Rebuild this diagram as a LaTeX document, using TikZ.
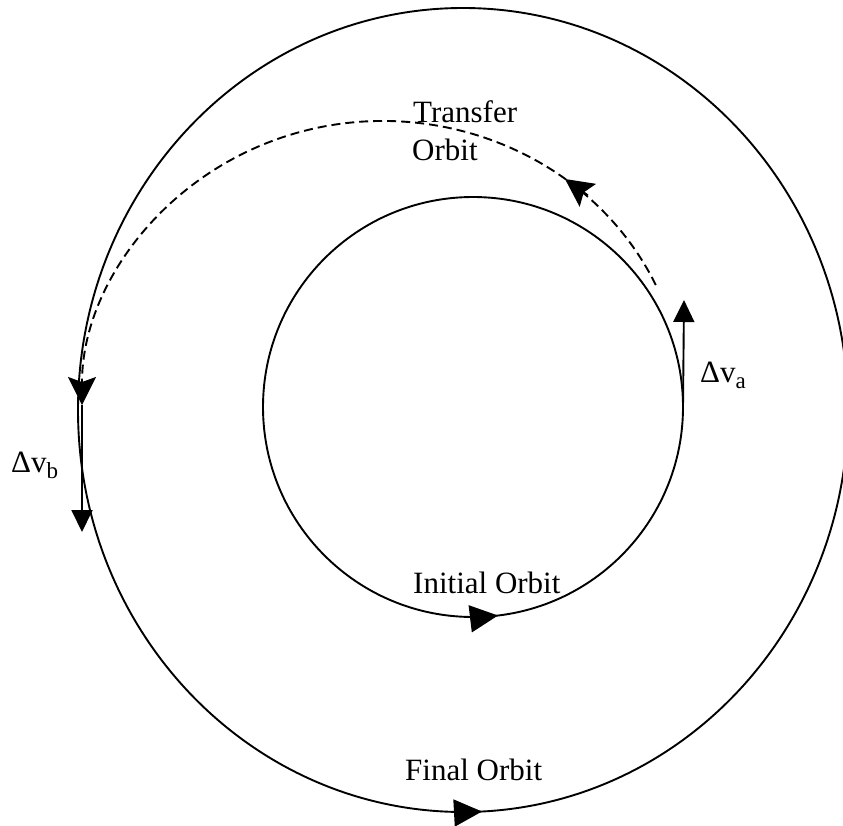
\documentclass[tikz,border=0pt]{standalone}
\usepackage{fontspec}
\setmainfont{Liberation Serif}
\usetikzlibrary{arrows.meta}
\newcommand{\subtxt}[1]{\raisebox{-0.22em}{\fontsize{23}{26}\selectfont #1}}
\begin{document}
\begin{tikzpicture}[x=1pt,y=-1pt,
  orbit/.style={line width=1.9pt},
  transfer/.style={line width=1.9pt, dash pattern=on 9pt off 5pt},
  lbl/.style={font=\fontsize{31}{36}\selectfont, inner sep=0pt, anchor=base west},
  orbarrow/.style={line width=1.9pt, -{Triangle[length=28pt,width=27pt]}},
  dvarrow/.style={line width=1.9pt, -{Triangle[length=22pt,width=21pt]}},
  trarrow/.style={line width=1.9pt, solid, -{Stealth[length=28pt,width=28pt,inset=5pt]}}
]
\useasboundingbox (0,0) rectangle (843,826);
\clip (0,0) rectangle (843,826);
% orbits
\draw[orbit] (463,410) ellipse [x radius=385, y radius=402];
\draw[orbit] (473,407) circle [radius=210];
% transfer orbit
\coordinate (tstart) at (655.8,285.0);
\draw[transfer, -{Stealth[length=28pt,width=28pt,inset=5pt]}] (tstart) arc[start angle=-25, end angle=-180, x radius=301, y radius=284] coordinate (apo);
\coordinate (tmidA) at (587.8,195.3);
\coordinate (tmidB) at (565,179);
\draw[trarrow] (tmidA) -- (tmidB);
% orbit direction arrows
\coordinate (iniA) at (470.2,618.8);
\coordinate (iniB) at (498,615.5);
\draw[orbarrow] (iniA) -- (iniB);
\coordinate (finA) at (454,813);
\coordinate (finB) at (482,811.5);
\draw[orbarrow] (finA) -- (finB);
% delta-v arrows
\coordinate (peri) at (683,407);
\coordinate (dvatip) at (684,300);
\draw[dvarrow] (peri) -- (dvatip);
\coordinate (dvbtip) at (82,532);
\draw[dvarrow] (apo) -- (dvbtip);
% labels
\node[lbl] (tr1) at (413,123) {Transfer};
\node[lbl] (tr2) at (412,161) {Orbit};
\node[lbl] (ini) at (413,593) {Initial Orbit};
\node[lbl] (fin) at (405,780) {Final Orbit};
\node[lbl] (dva) at (700,382) {Δv\subtxt{a}};
\node[lbl] (dvb) at (11,472) {Δv\subtxt{b}};
\end{tikzpicture}
\end{document}
